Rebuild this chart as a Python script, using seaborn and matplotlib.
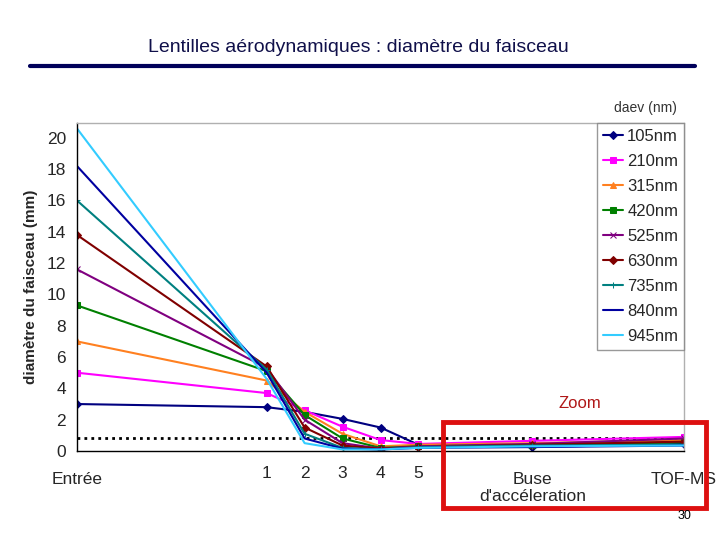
import numpy as np
import pandas as pd
import seaborn as sns
import matplotlib.pyplot as plt
from matplotlib.lines import Line2D
from matplotlib.patches import Rectangle

# %% Data

# positions along the lens stack and their labels
x_pos = [0, 5, 6, 7, 8, 9, 12, 16]
tick_pos = [0, 5, 6, 7, 8, 9, 12, 16]
tick_lbl = ['Entrée', '1', '2', '3', '4', '5', "Buse\nd'accéleration", 'TOF-MS']

sizes = ['105nm', '210nm', '315nm', '420nm', '525nm',
         '630nm', '735nm', '840nm', '945nm']

d105 = [3.0, 2.8, 2.5, 2.05, 1.5, 0.4, 0.25, 0.45]
d210 = [5.0, 3.7, 2.6, 1.55, 0.7, 0.45, 0.65, 0.9]
d315 = [7.0, 4.5, 2.5, 1.1, 0.3, 0.4, 0.5, 0.7]
d420 = [9.3, 5.1, 2.3, 0.8, 0.2, 0.3, 0.4, 0.55]
d525 = [11.6, 5.3, 2.0, 0.5, 0.15, 0.3, 0.45, 0.8]
d630 = [13.8, 5.4, 1.5, 0.35, 0.15, 0.25, 0.4, 0.6]
d735 = [16.0, 5.2, 1.1, 0.2, 0.1, 0.25, 0.35, 0.4]
d840 = [18.2, 5.0, 0.8, 0.15, 0.1, 0.2, 0.25, 0.35]
d945 = [20.6, 4.6, 0.5, 0.1, 0.1, 0.2, 0.3, 0.35]

# limit (dotted line)
y_limit = 0.8

lst_data = [d105, d210, d315, d420, d525, d630, d735, d840, d945]

# colours and markers
lst_colors = ['#000080', '#ff00ff', '#ff8020', '#008000', '#800080',
              '#800000', '#008080', '#0000a0', '#33ccff']
lst_markers = ['D', 's', '^', 's', 'x', 'D', '+', '', '']

# %% Build data frame

rows = []
for name, vals in zip(sizes, lst_data):
    for xp, v in zip(x_pos, vals):
        rows.append({'pos': xp, 'diam': v, 'size': name})
df = pd.DataFrame(rows)

# %% Plot

sns.set_style('white')
plt.rcParams['font.family'] = ['Liberation Sans', 'DejaVu Sans']

fig = plt.figure(figsize=(7.2, 5.4), dpi=100)
ax = fig.add_axes([77 / 720, 1 - 451 / 540, (684 - 77) / 720, (451 - 123) / 540])

for name, col, mrk in zip(sizes, lst_colors, lst_markers):
    sub = df[df['size'] == name]
    sns.lineplot(data=sub, x='pos', y='diam', color=col, marker=mrk,
                 markersize=4.5, markeredgecolor=col, linewidth=1.5,
                 label=name, ax=ax)

ax.axhline(y_limit, color='black', linestyle=(0, (1, 1.5)), linewidth=2,
           zorder=1)

ax.set_xlim(0, 16)
ax.set_ylim(0, 20.95)
ax.set_yticks(np.arange(0, 21, 2))
ax.set_xticks(np.arange(0, 17, 1))
lbls = [''] * 17
for p, l in zip(tick_pos, tick_lbl):
    lbls[p] = l
ax.set_xticklabels(lbls)
ax.tick_params(axis='both', direction='out', length=5, width=1,
               labelsize=12.5, color='black')
ax.tick_params(axis='x', pad=6)
ax.tick_params(axis='y', pad=3)
# push the word labels lower than the numbers
xticks = ax.xaxis.get_major_ticks()
for p in [0, 12, 16]:
    xticks[p].set_pad(10)

ax.set_xlabel('')
ax.set_ylabel('diamètre du faisceau (mm)', fontsize=11, fontweight='bold',
              labelpad=6)

for side in ['left', 'bottom']:
    ax.spines[side].set_color('black')
    ax.spines[side].set_linewidth(1)
for side in ['top', 'right']:
    ax.spines[side].set_color('#b0b0b0')
    ax.spines[side].set_linewidth(1)

# legend with title above the frame
handles, labels = ax.get_legend_handles_labels()
leg = ax.legend(handles, labels, loc='upper right', bbox_to_anchor=(1, 1),
                borderaxespad=0, fontsize=12, frameon=True, fancybox=False,
                handlelength=1.2, handletextpad=0.25, labelspacing=0.6,
                borderpad=0.35)
leg.get_frame().set_edgecolor('#808080')
leg.get_frame().set_linewidth(1)
fig.text(645 / 720, 1 - 108 / 540, 'daev (nm)', ha='center', va='center',
         fontsize=10, color='#333333')

# slide title and underline
fig.text(358 / 720, 1 - 48 / 540,
         'Lentilles aérodynamiques : diamètre du faisceau',
         ha='center', va='center', fontsize=14, color='#10104a')
fig.add_artist(Line2D([30 / 720, 695 / 720], [1 - 66 / 540, 1 - 66 / 540],
                      color='#00005a', linewidth=3))

# zoom box
fig.add_artist(Rectangle((443 / 720, 1 - 508 / 540), 263 / 720, 86 / 540,
                         fill=False, edgecolor='#dd1010', linewidth=3.5))
fig.text(580 / 720, 1 - 403 / 540, 'Zoom', ha='center', va='center',
         fontsize=12, color='#b01818')
fig.text(685 / 720, 1 - 516 / 540, '30', ha='center', va='center',
         fontsize=9, color='black')

fig.savefig('out.png', dpi=100)
